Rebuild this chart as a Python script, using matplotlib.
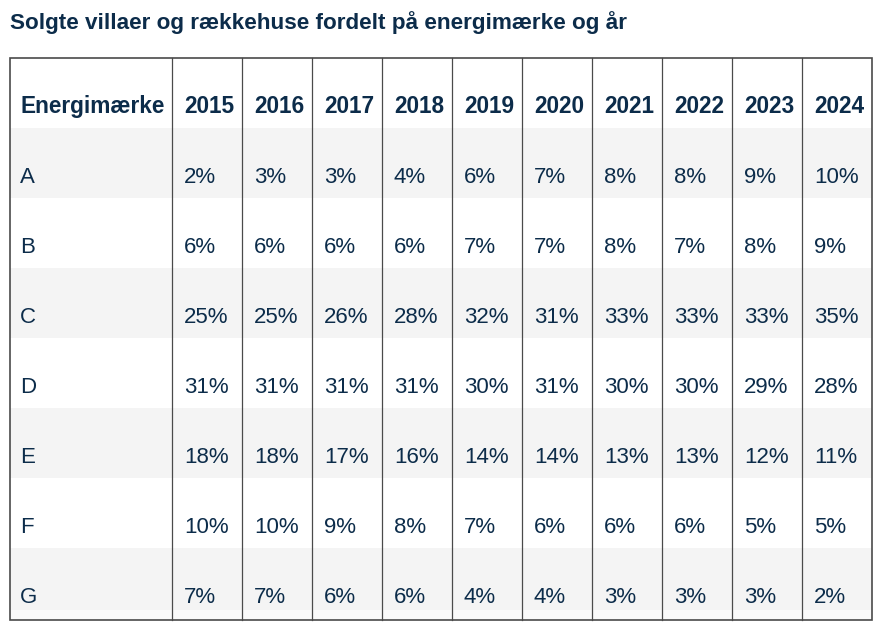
import matplotlib

matplotlib.use("Agg")
import matplotlib.pyplot as plt
from matplotlib import font_manager
from matplotlib.font_manager import FontProperties
from matplotlib.patches import Rectangle

TITLE = "Solgte villaer og rækkehuse fordelt på energimærke og år"
HEADER = "Energimærke"
years = ["2015", "2016", "2017", "2018", "2019", "2020", "2021", "2022", "2023", "2024"]
grades = ["A", "B", "C", "D", "E", "F", "G"]

share_A = [2, 3, 3, 4, 6, 7, 8, 8, 9, 10]
share_B = [6, 6, 6, 6, 7, 7, 8, 7, 8, 9]
share_C = [25, 25, 26, 28, 32, 31, 33, 33, 33, 35]
share_D = [31, 31, 31, 31, 30, 31, 30, 30, 29, 28]
share_E = [18, 18, 17, 16, 14, 14, 13, 13, 12, 11]
share_F = [10, 10, 9, 8, 7, 6, 6, 6, 5, 5]
share_G = [7, 7, 6, 6, 4, 4, 3, 3, 3, 2]
rows = [share_A, share_B, share_C, share_D, share_E, share_F, share_G]

TEXT = "#0c2c4a"
LINE = "#4a4a4a"
SHADE = "#f4f4f4"


def pick_font(bold):
    # avoid the Narrow variant of Liberation Sans
    for f in font_manager.fontManager.ttflist:
        if f.name != "Liberation Sans" or "Narrow" in f.fname:
            continue
        if f.style != "normal":
            continue
        is_bold = f.weight in ("bold", 700)
        if is_bold == bold:
            return FontProperties(fname=f.fname)
    return FontProperties(family="Liberation Sans",
                          weight="bold" if bold else "normal")


bold_fp = pick_font(True)
reg_fp = pick_font(False)

W, H = 882, 629
fig = plt.figure(figsize=(W / 100, H / 100), dpi=100)
ax = fig.add_axes([0, 0, 1, 1])
ax.set_xlim(0, W)
ax.set_ylim(H, 0)
ax.axis("off")

left, top = 10, 58
first_w, col_w, row_h = 162, 70, 70
right = left + first_w + col_w * len(years)
bottom = top + row_h * (len(grades) + 1) + 2

ax.text(left, 23, TITLE, fontproperties=bold_fp, fontsize=16.2, color=TEXT,
        ha="left", va="center")

# striped rows
for i in range(len(grades)):
    y0 = top + row_h * (i + 1)
    if i % 2 == 0:
        h = row_h if i < len(grades) - 1 else row_h - 8
        ax.add_patch(Rectangle((left, y0), right - left, h,
                               facecolor=SHADE, edgecolor="none", zorder=0))
# faint strip under the last row
ax.add_patch(Rectangle((left, bottom - 10), right - left, 10,
                       facecolor="#fafafa", edgecolor="none", zorder=0))

col_x = [left] + [left + first_w + col_w * j for j in range(len(years))]
for x in col_x[1:]:
    ax.plot([x, x], [top, bottom], color=LINE, lw=0.9, zorder=2)
ax.add_patch(Rectangle((left, top), right - left, bottom - top,
                       facecolor="none", edgecolor=LINE, lw=1.2, zorder=3))

ty = 0.71 * row_h
ax.text(left + 10, top + ty - 1, HEADER, fontproperties=bold_fp, fontsize=16.3,
        color=TEXT, ha="left", va="center")
for j, yr in enumerate(years):
    ax.text(col_x[j + 1] + 12, top + ty - 1, yr, fontproperties=bold_fp,
            fontsize=16.3, color=TEXT, ha="left", va="center")

for i, (g, vals) in enumerate(zip(grades, rows)):
    y = top + row_h * (i + 1) + ty
    ax.text(left + 10, y, g, fontproperties=reg_fp, fontsize=16, color=TEXT,
            ha="left", va="center")
    for j, v in enumerate(vals):
        ax.text(col_x[j + 1] + 12, y, f"{v}%", fontproperties=reg_fp,
                fontsize=16, color=TEXT, ha="left", va="center")

fig.savefig("out.png", dpi=100)
